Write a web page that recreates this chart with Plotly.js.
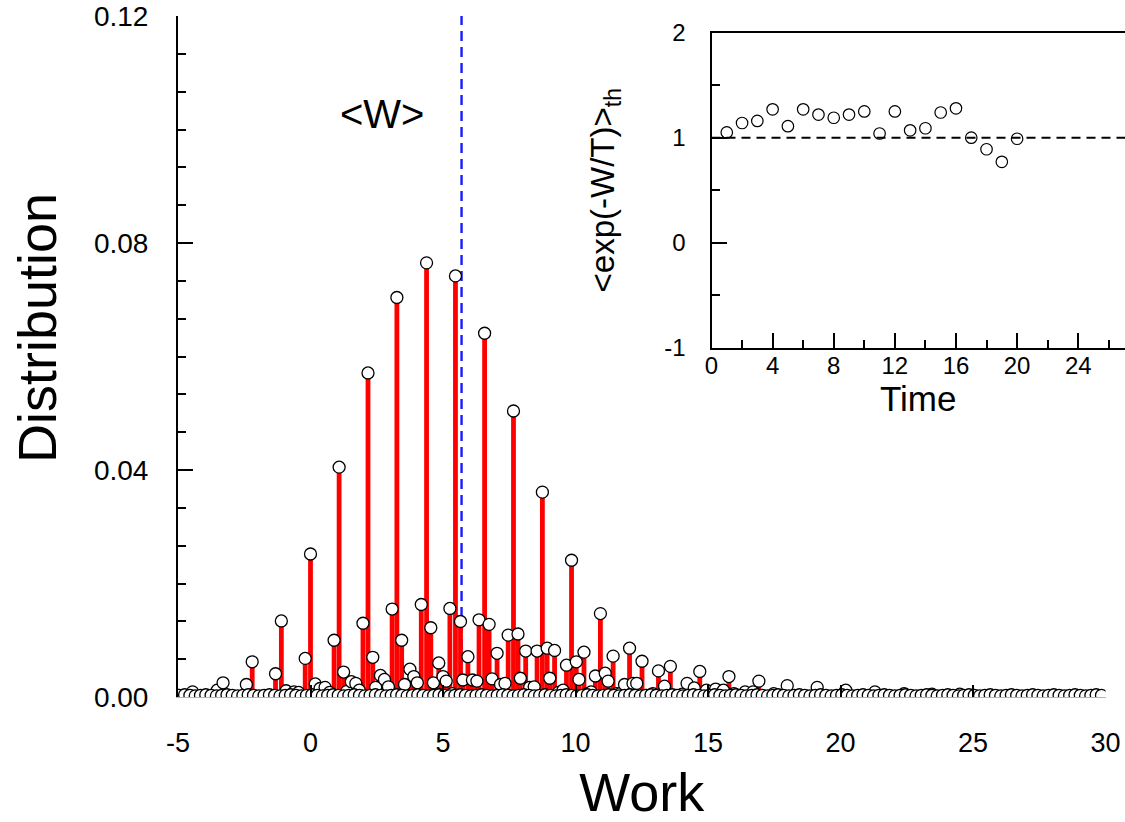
<!DOCTYPE html>
<html>
<head>
<meta charset="utf-8">
<script src="https://cdn.plot.ly/plotly-3.0.1.min.js"></script>
<style>html,body{margin:0;padding:0;background:#fff;}#chart{width:1125px;height:822px;}</style>
</head>
<body>
<div id="chart"></div>
<script>
// ---- Main panel: work distribution (significant points) ----
const peakWork = [
  -4.45,-3.52,-3.30,-2.42,-2.20,-1.32,-1.10,-0.92,-0.62,-0.45,
  -0.20,0.00,0.18,0.36,0.55,0.72,0.89,1.08,1.25,1.37,
  1.54,1.71,1.84,1.98,2.17,2.35,2.46,2.64,2.79,2.94,
  3.08,3.26,3.44,3.55,3.75,3.90,4.03,4.18,4.38,4.54,
  4.64,4.84,5.00,5.12,5.26,5.35,5.47,5.66,5.75,5.94,
  6.11,6.28,6.36,6.57,6.74,6.85,7.04,7.17,7.34,7.46,
  7.66,7.83,7.92,8.12,8.27,8.44,8.55,8.75,8.93,9.03,
  9.21,9.35,9.53,9.66,9.85,10.03,10.13,10.32,10.45,10.59,
  10.75,10.94,11.12,11.23,11.42,11.55,11.69,11.85,12.04,12.17,
  12.31,12.51,12.68,12.92,13.13,13.36,13.58,13.78,14.03,14.21,
  14.48,14.69,14.94,15.16,15.29,15.58,15.79,15.98,16.40,16.70,
  16.92,17.48,17.99,19.12,20.20,21.30,22.40,23.45,24.50
];
const peakDist = [
  0.0009,0.0012,0.0025,0.0022,0.0062,0.0041,0.0134,0.0011,0.0009,0.0008,
  0.0068,0.0252,0.0023,0.0015,0.0017,0.0008,0.0100,0.0405,0.0044,0.0010,
  0.0027,0.0024,0.0012,0.0130,0.0571,0.0070,0.0017,0.0038,0.0031,0.0018,
  0.0155,0.0704,0.0100,0.0022,0.0049,0.0036,0.0025,0.0163,0.0765,0.0122,
  0.0025,0.0060,0.0036,0.0028,0.0156,0.0006,0.0742,0.0133,0.0030,0.0071,
  0.0030,0.0028,0.0136,0.0641,0.0128,0.0032,0.0077,0.0022,0.0024,0.0109,
  0.0504,0.0111,0.0033,0.0081,0.0017,0.0018,0.0081,0.0361,0.0086,0.0033,
  0.0082,0.0008,0.0012,0.0056,0.0241,0.0062,0.0031,0.0079,0.0006,0.0009,
  0.0037,0.0147,0.0042,0.0028,0.0072,0.0006,0.0006,0.0022,0.0086,0.0024,
  0.0024,0.0063,0.0003,0.0006,0.0046,0.0019,0.0054,0.0003,0.0005,0.0024,
  0.0016,0.0045,0.0012,0.0006,0.0014,0.0012,0.0036,0.0006,0.0009,0.0009,
  0.0028,0.0006,0.0020,0.0017,0.0012,0.0009,0.0006,0.0005,0.0005
];
// ---- Main panel: near-zero points along the bottom ----
const baseWork = [
  -4.95,-4.75,-4.55,-4.35,-4.15,-3.95,-3.75,-3.55,-3.35,-3.15,
  -2.95,-2.75,-2.55,-2.35,-2.15,-1.95,-1.75,-1.55,-1.35,-1.15,
  -0.95,-0.75,-0.55,-0.35,-0.15,0.05,0.25,0.45,0.65,0.85,
  1.05,1.25,1.45,1.65,1.85,2.05,2.25,2.45,2.65,2.85,
  3.05,3.25,3.45,3.65,3.85,4.05,4.25,4.45,4.65,4.85,
  5.05,5.25,5.45,5.65,5.85,6.05,6.25,6.45,6.65,6.85,
  7.05,7.25,7.45,7.65,7.85,8.05,8.25,8.45,8.65,8.85,
  9.05,9.25,9.45,9.65,9.85,10.05,10.25,10.45,10.65,10.85,
  11.05,11.25,11.45,11.65,11.85,12.05,12.25,12.45,12.65,12.85,
  13.05,13.25,13.45,13.65,13.85,14.05,14.25,14.45,14.65,14.85,
  15.05,15.25,15.45,15.65,15.85,16.05,16.25,16.45,16.65,16.85,
  17.05,17.25,17.45,17.65,17.85,18.05,18.25,18.45,18.65,18.85,
  19.05,19.25,19.45,19.65,19.85,20.05,20.25,20.45,20.65,20.85,
  21.05,21.25,21.45,21.65,21.85,22.05,22.25,22.45,22.65,22.85,
  23.05,23.25,23.45,23.65,23.85,24.05,24.25,24.45,24.65,24.85,
  25.05,25.25,25.45,25.65,25.85,26.05,26.25,26.45,26.65,26.85,
  27.05,27.25,27.45,27.65,27.85,28.05,28.25,28.45,28.65,28.85,
  29.05,29.25,29.45,29.65,29.85
];
const baseDist = [
  0.0003,0.0004,0.0003,0.0002,0.0003,0.0004,0.0003,0.0002,0.0003,0.0004,
  0.0003,0.0002,0.0003,0.0004,0.0003,0.0002,0.0003,0.0004,0.0003,0.0002,
  0.0003,0.0004,0.0003,0.0002,0.0003,0.0004,0.0003,0.0002,0.0003,0.0004,
  0.0003,0.0002,0.0003,0.0004,0.0003,0.0002,0.0003,0.0004,0.0003,0.0002,
  0.0003,0.0004,0.0003,0.0002,0.0003,0.0004,0.0003,0.0002,0.0003,0.0004,
  0.0003,0.0002,0.0003,0.0004,0.0003,0.0002,0.0003,0.0004,0.0003,0.0002,
  0.0003,0.0004,0.0003,0.0002,0.0003,0.0004,0.0003,0.0002,0.0003,0.0004,
  0.0003,0.0002,0.0003,0.0004,0.0003,0.0002,0.0003,0.0004,0.0003,0.0002,
  0.0003,0.0004,0.0003,0.0002,0.0003,0.0004,0.0003,0.0002,0.0003,0.0004,
  0.0003,0.0002,0.0003,0.0004,0.0003,0.0002,0.0003,0.0004,0.0003,0.0002,
  0.0003,0.0004,0.0003,0.0002,0.0003,0.0004,0.0003,0.0002,0.0003,0.0004,
  0.0003,0.0002,0.0003,0.0004,0.0003,0.0002,0.0003,0.0004,0.0003,0.0002,
  0.0003,0.0004,0.0003,0.0002,0.0003,0.0004,0.0003,0.0002,0.0003,0.0004,
  0.0003,0.0002,0.0003,0.0004,0.0003,0.0002,0.0003,0.0004,0.0003,0.0002,
  0.0003,0.0004,0.0003,0.0002,0.0003,0.0004,0.0003,0.0002,0.0003,0.0004,
  0.0003,0.0002,0.0003,0.0004,0.0003,0.0002,0.0003,0.0004,0.0003,0.0002,
  0.0003,0.0004,0.0003,0.0002,0.0003,0.0004,0.0003,0.0002,0.0003,0.0004,
  0.0003,0.0002,0.0003,0.0004,0.0003
];
const meanWork = 5.7;
const workTicks = [-5, 0, 5, 10, 15, 20, 25, 30];
const distTicks = [0, 0.04, 0.08, 0.12];

// ---- Inset: <exp(-W/T)>_th vs time ----
const timeVals = [1,2,3,4,5,6,7,8,9,10,11,12,13,14,15,16,17,18,19,20];
const expVals  = [1.05,1.14,1.16,1.27,1.11,1.27,1.22,1.19,1.22,1.25,1.04,1.25,1.07,1.09,1.24,1.28,1.00,0.89,0.77,0.99];
const timeTicks = [0, 4, 8, 12, 16, 20, 24];
const expTicks = [-1, 0, 1, 2];
const expReference = 1;

const FONT = 'Liberation Sans, Arial, Helvetica, sans-serif';

const allWork = peakWork.concat(baseWork);
const allDist = peakDist.concat(baseDist);

const traces = [
  {
    type: 'scatter', mode: 'markers', x: allWork, y: allDist, xaxis: 'x', yaxis: 'y',
    marker: {size: 12, color: '#ffffff', line: {color: '#000000', width: 1.3}},
    error_y: {type: 'data', symmetric: false, array: allDist.map(() => 0), arrayminus: allDist,
              color: '#ff0000', thickness: 4.8, width: 0},
    hoverinfo: 'x+y', showlegend: false
  },
  {
    type: 'scatter', mode: 'markers', x: timeVals, y: expVals, xaxis: 'x2', yaxis: 'y2',
    marker: {symbol: 'circle-open', size: 11.5, color: '#000000', line: {width: 1.2}},
    showlegend: false
  }
];

const pxL = 178, pxW = 947, mainW = 927.5, insetLeftPx = 711.5;
const layout = {
  width: 1125, height: 822,
  margin: {l: pxL, r: 0, t: 16, b: 125, pad: 0},
  paper_bgcolor: '#ffffff', plot_bgcolor: 'rgba(0,0,0,0)',
  font: {family: FONT, color: '#000000'},
  showlegend: false,
  xaxis: {
    domain: [0, mainW / pxW], range: [-5, 30], anchor: 'y',
    tickmode: 'array', tickvals: workTicks, ticktext: workTicks.map(String),
    ticks: 'inside', ticklen: 12, tickwidth: 2, tickcolor: '#000000',
    showline: true, linecolor: '#b4b4b4', linewidth: 1,
    showgrid: false, zeroline: false,
    tickfont: {size: 27, family: FONT}, ticklabelstandoff: 22,
    title: {text: 'Work', font: {size: 54, family: FONT}, standoff: 30}
  },
  yaxis: {
    domain: [0, 1], range: [0, 0.12], anchor: 'x',
    tickmode: 'array', tickvals: distTicks, ticktext: distTicks.map(v => v.toFixed(2)),
    ticks: 'inside', ticklen: 15, tickwidth: 2, tickcolor: '#000000',
    minor: {dtick: 0.04 / 6, tick0: 0, ticks: 'inside', ticklen: 8, tickwidth: 2, tickcolor: '#000000', showgrid: false},
    showline: true, linecolor: '#000000', linewidth: 2,
    showgrid: false, zeroline: false,
    tickfont: {size: 28, family: FONT}, ticklabelstandoff: 22
  },
  xaxis2: {
    domain: [(insetLeftPx - pxL) / pxW, 1], range: [0, (1125 - insetLeftPx) / 15.28], anchor: 'y2',
    tickmode: 'array', tickvals: timeTicks, ticktext: timeTicks.map(String),
    ticks: 'inside', ticklen: 15, tickwidth: 2, tickcolor: '#000000',
    minor: {dtick: 2, tick0: 0, ticks: 'inside', ticklen: 8, tickwidth: 2, tickcolor: '#000000', showgrid: false},
    showline: true, mirror: true, linecolor: '#000000', linewidth: 2,
    showgrid: false, zeroline: false,
    tickfont: {size: 24, family: FONT}, ticklabelstandoff: -5,
    title: {text: 'Time', font: {size: 35, family: FONT}, standoff: 0}
  },
  yaxis2: {
    domain: [(697 - 347.7) / 681, (697 - 32.7) / 681], range: [-1, 2], anchor: 'x2',
    tickmode: 'array', tickvals: expTicks, ticktext: expTicks.map(String),
    ticks: 'inside', ticklen: 15, tickwidth: 2, tickcolor: '#000000',
    minor: {dtick: 0.5, tick0: 0, ticks: 'inside', ticklen: 8, tickwidth: 2, tickcolor: '#000000', showgrid: false},
    showline: true, linecolor: '#000000', linewidth: 2,
    showgrid: false, zeroline: false,
    tickfont: {size: 24, family: FONT}, ticklabelstandoff: 19,
    title: {text: '&lt;exp(-W/T)&gt;<sub>th</sub>', font: {size: 33, family: FONT}, standoff: 40}
  },
  shapes: [
    {type: 'line', xref: 'x', yref: 'y', x0: meanWork, x1: meanWork, y0: 0, y1: 0.12,
     line: {color: '#1a1aff', width: 2.4, dash: '10px,6px'}, layer: 'below'},
    {type: 'line', xref: 'x2 domain', yref: 'y2', x0: 0, x1: 1, y0: expReference, y1: expReference,
     line: {color: '#000000', width: 2, dash: '9px,6px'}, layer: 'below'}
  ],
  annotations: [
    {text: '&lt;W&gt;', xref: 'x', yref: 'y', x: 2.68, y: 0.1028, showarrow: false,
     font: {size: 40, family: FONT}, xanchor: 'center', yanchor: 'middle'},
    {text: 'Distribution', xref: 'paper', yref: 'paper', x: (37 - pxL) / pxW, y: (697 - 328) / 681,
     textangle: -90, showarrow: false, font: {size: 54, family: FONT}, xanchor: 'center', yanchor: 'middle'}
  ]
};

Plotly.newPlot('chart', traces, layout, {displayModeBar: false, staticPlot: true});
</script>
</body>
</html>
